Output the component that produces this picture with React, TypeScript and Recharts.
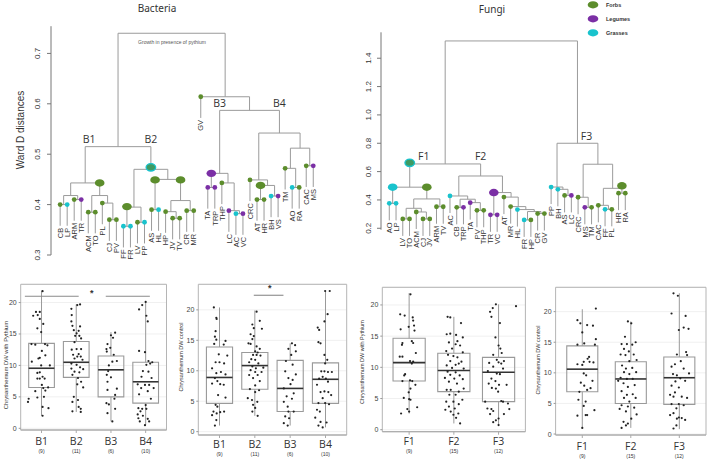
import React from 'react';
import { ComposedChart, Scatter, XAxis, YAxis, ReferenceArea, ReferenceLine, CartesianGrid } from 'recharts';

const GREEN = '#5c8d2c';
const PURPLE = '#7b2fa5';
const CYAN = '#19c3cd';
const MIX = '#3f9a62';
const LINK = '#9b9b9b';
const FONT = '"Liberation Sans", Arial, sans-serif';
const colorOf: Record<string, string> = { f: GREEN, l: PURPLE, g: CYAN, m: MIX };

// ---------- dendrograms ----------
const bactLeaves = ['CB', 'LP', 'ARM', 'TR', 'ACM', 'TO', 'PL', 'CJ', 'PV', 'FF', 'FR', 'LV', 'PP', 'AS', 'HL', 'HP', 'JV', 'TV', 'CR', 'MR',
  'GV', 'TA', 'TRP', 'THP', 'LC', 'AC', 'VC', 'CRC', 'AT', 'HR', 'BH', 'VS', 'TM', 'AO', 'RA', 'CAC', 'MS'];
const bactGroups = ['f', 'g', 'f', 'l', 'f', 'f', 'f', 'f', 'f', 'g', 'g', 'f', 'g', 'f', 'g', 'f', 'f', 'f', 'f', 'f',
  'f', 'l', 'l', 'f', 'l', 'g', 'l', 'f', 'f', 'f', 'g', 'l', 'f', 'g', 'f', 'f', 'l'];
const bactMerges: [string, string, string, number][] = [
  ['a1', 'CB', 'LP', 0.400], ['a2', 'ARM', 'TR', 0.410], ['a3', 'a1', 'a2', 0.418],
  ['a4', 'ACM', 'TO', 0.385], ['a5', 'CJ', 'PV', 0.370], ['a6', 'PL', 'a5', 0.403],
  ['a7', 'a4', 'a6', 0.418], ['a8', 'a3', 'a7', 0.443],
  ['b1', 'FF', 'FR', 0.357], ['b2', 'LV', 'PP', 0.365], ['b3', 'b1', 'b2', 0.395],
  ['b4', 'AS', 'HL', 0.390], ['b5', 'JV', 'TV', 0.373], ['b6', 'HP', 'b5', 0.386],
  ['b7', 'CR', 'MR', 0.388], ['b8', 'b6', 'b7', 0.408], ['b9', 'b4', 'b8', 0.450],
  ['b10', 'b3', 'b9', 0.470], ['B12', 'a8', 'b10', 0.515],
  ['c1', 'TA', 'TRP', 0.434], ['c2', 'AC', 'VC', 0.382], ['c3', 'LC', 'c2', 0.388],
  ['c4', 'THP', 'c3', 0.443], ['c5', 'c1', 'c4', 0.462],
  ['d1', 'AT', 'HR', 0.410], ['d2', 'BH', 'VS', 0.417], ['d3', 'd1', 'd2', 0.438],
  ['d4', 'CRC', 'd3', 0.449], ['d5', 'AO', 'RA', 0.434], ['d6', 'TM', 'd5', 0.472],
  ['d7', 'CAC', 'MS', 0.477], ['d8', 'd6', 'd7', 0.512], ['d9', 'd4', 'd8', 0.542],
  ['e1', 'c5', 'd9', 0.587], ['e2', 'GV', 'e1', 0.614], ['root', 'B12', 'e2', 0.740],
];
const bactBigDots: [string, number, string][] = [
  ['a7', 0.443, 'f'], ['b1', 0.396, 'f'], ['b10', 0.474, 'm'], ['b4', 0.449, 'f'],
  ['b8', 0.449, 'f'], ['c1', 0.462, 'l'], ['d1', 0.438, 'f'],
];
// cluster names: [node, name, sits on parent bar (p) or own bar (s)]
const bactClusters: [string, string, string][] = [['a8', 'B1', 'p'], ['b10', 'B2', 'p'], ['c5', 'B3', 'p'], ['d9', 'B4', 'p']];
const bactTicks = [0.3, 0.4, 0.5, 0.6, 0.7];

const fungLeaves = ['AO', 'LP', 'LV', 'TO', 'ACM', 'CJ', 'JV', 'ARM', 'TV', 'AC', 'CB', 'TRP', 'TA', 'PV', 'THP', 'TR', 'VC', 'AT',
  'MR', 'HL', 'FR', 'HP', 'CR', 'GV', 'PP', 'BH', 'AS', 'LC', 'CRC', 'MS', 'TM', 'CAC', 'FF', 'PL', 'HR', 'RA'];
const fungGroups = ['g', 'g', 'f', 'f', 'f', 'f', 'f', 'f', 'f', 'g', 'f', 'l', 'l', 'f', 'f', 'l', 'l', 'f',
  'f', 'g', 'g', 'f', 'f', 'f', 'g', 'g', 'f', 'l', 'f', 'l', 'f', 'f', 'g', 'f', 'f', 'f'];
const fungMerges: [string, string, string, number][] = [
  ['f1', 'AO', 'LP', 0.376], ['f2', 'LV', 'TO', 0.266], ['f3', 'CJ', 'JV', 0.266],
  ['f4', 'ACM', 'f3', 0.315], ['f5', 'f2', 'f4', 0.341], ['f6', 'ARM', 'TV', 0.352],
  ['f7', 'f5', 'f6', 0.407], ['f8', 'f1', 'f7', 0.490],
  ['g1', 'CB', 'TRP', 0.348], ['g2', 'PV', 'THP', 0.327], ['g3', 'TA', 'g2', 0.381],
  ['g4', 'g1', 'g3', 0.405], ['g5', 'AC', 'g4', 0.428], ['g6', 'TR', 'VC', 0.295],
  ['g7', 'FR', 'HP', 0.259], ['g8', 'CR', 'GV', 0.304], ['g9', 'g7', 'g8', 0.318],
  ['g10', 'HL', 'g9', 0.332], ['g11', 'MR', 'g10', 0.353], ['g12', 'AT', 'g11', 0.420],
  ['g13', 'g6', 'g12', 0.452], ['g14', 'g5', 'g13', 0.569], ['F12', 'f8', 'g14', 0.654],
  ['h1', 'AS', 'LC', 0.432], ['h2', 'BH', 'h1', 0.475], ['h3', 'PP', 'h2', 0.491],
  ['h4', 'MS', 'TM', 0.348], ['h5', 'CRC', 'h4', 0.419], ['h6', 'FF', 'PL', 0.334],
  ['h7', 'CAC', 'h6', 0.362], ['h8', 'HR', 'RA', 0.448], ['h9', 'h7', 'h8', 0.482],
  ['h10', 'h5', 'h9', 0.652], ['F3', 'h3', 'h10', 0.800], ['root', 'F12', 'F3', 1.522],
];
const fungBigDots: [string, number, string][] = [
  ['f8', 0.662, 'm'], ['f1', 0.490, 'g'], ['f7', 0.490, 'f'], ['g6', 0.452, 'l'], ['h8', 0.500, 'f'],
];
const fungClusters: [string, string, string][] = [['f8', 'F1', 'p'], ['g14', 'F2', 'p'], ['F3', 'F3', 's']];
const fungTicks = [0.2, 0.4, 0.6, 0.8, 1.0, 1.2, 1.4];
const legendNames = ['Forbs', 'Legumes', 'Grasses'];
const legendGroups = ['f', 'l', 'g'];

// ---------- boxplots ----------
const bactCats = ['B1', 'B2', 'B3', 'B4'];
const bactCounts = ['(9)', '(11)', '(6)', '(10)'];
const fungCats = ['F1', 'F2', 'F3'];
const fungCounts = ['(9)', '(15)', '(12)'];
const boxTicks = [0, 5, 10, 15, 20];

const bactPythBoxes = [
  { min: 2.0, q1: 6.5, med: 9.55, q3: 13.5, max: 21.9 },
  { min: 2.6, q1: 8.1, med: 10.5, q3: 13.8, max: 19.7 },
  { min: 1.1, q1: 5.0, med: 9.3, q3: 11.5, max: 15.3 },
  { min: 0.5, q1: 4.0, med: 7.4, q3: 10.5, max: 20.1 },
];
const bactCtrlBoxes = [
  { min: 1.0, q1: 4.65, med: 8.9, q3: 13.9, max: 20.4 },
  { min: 2.6, q1: 6.96, med: 10.85, q3: 13.0, max: 19.9 },
  { min: 1.0, q1: 3.3, med: 7.1, q3: 11.7, max: 14.5 },
  { min: 0.7, q1: 4.65, med: 8.6, q3: 11.3, max: 23.1 },
];
const fungPythBoxes = [
  { min: 2.6, q1: 7.8, med: 10.75, q3: 14.65, max: 21.9 },
  { min: 1.0, q1: 6.1, med: 9.5, q3: 12.25, max: 18.1 },
  { min: 0.75, q1: 4.5, med: 9.2, q3: 11.6, max: 20.1 },
];
const fungCtrlBoxes = [
  { min: 1.0, q1: 6.9, med: 10.6, q3: 14.4, max: 20.4 },
  { min: 1.0, q1: 5.0, med: 9.0, q3: 11.8, max: 18.4 },
  { min: 0.8, q1: 4.85, med: 9.2, q3: 12.6, max: 23.0 },
];

// jittered observations: [offset from group centre, value]
const bpB1 = [[.03, 21.8], [-.16, 18.5], [-.05, 18.5], [-.11, 18.0], [-.24, 17.9], [-.05, 17.4], [.05, 16.6], [-.12, 15.9], [-.01, 15.3], [-.29, 13.4], [-.18, 13.3], [.10, 13.4], [.17, 13.2], [.01, 12.3], [-.05, 11.2], [-.09, 11.1], [.11, 11.6], [-.28, 10.6], [.24, 10.0], [-.01, 10.0], [-.12, 8.8], [-.05, 8.9], [.03, 8.2], [-.12, 7.9], [-.05, 7.9], [.09, 7.9], [.01, 6.9], [.05, 6.4], [.19, 6.5], [-.18, 5.9], [.11, 6.0], [-.37, 4.7], [-.12, 4.9], [.07, 5.0], [-.39, 4.2], [.03, 3.4], [.20, 3.2], [.03, 2.0]];
const bpB2 = [[.11, 19.7], [.03, 19.6], [-.14, 19.0], [-.13, 18.0], [-.14, 17.0], [-.11, 16.3], [.11, 16.2], [-.07, 15.6], [.07, 15.5], [.01, 15.1], [-.03, 14.7], [.09, 14.7], [.14, 14.3], [-.05, 13.7], [-.13, 12.5], [.01, 12.6], [.14, 12.6], [-.09, 11.7], [.07, 11.8], [.03, 11.4], [.13, 11.4], [-.05, 11.1], [.18, 10.9], [-.14, 10.3], [.01, 10.1], [.11, 9.7], [-.14, 9.5], [.20, 9.4], [-.05, 9.0], [.09, 8.9], [-.11, 8.5], [.05, 8.0], [.14, 7.4], [.03, 7.0], [.20, 6.5], [-.07, 5.0], [.05, 4.5], [-.11, 4.2], [.07, 3.4], [.13, 3.1], [-.11, 2.7], [.13, 2.6]];
const bpB3 = [[.12, 15.2], [0, 14.8], [.06, 14.4], [-.10, 13.4], [-.02, 12.8], [-.13, 12.6], [-.12, 12.2], [.08, 11.7], [.17, 10.7], [.04, 10.6], [-.06, 10.0], [-.08, 9.1], [-.12, 8.5], [0, 8.1], [-.10, 7.4], [-.10, 6.1], [.17, 6.3], [.12, 5.3], [.10, 4.7], [-.13, 4.0], [-.06, 3.8], [.12, 3.1], [-.10, 2.4], [.04, 1.1]];
const bpB4 = [[-.19, 18.9], [-.10, 19.6], [0, 20.1], [.02, 17.9], [.06, 17.0], [-.19, 12.3], [-.02, 12.1], [.08, 10.7], [.13, 10.3], [.19, 10.5], [.02, 10.1], [-.08, 9.1], [.08, 9.0], [-.12, 8.2], [.17, 8.0], [-.23, 7.0], [-.02, 6.9], [.10, 6.9], [-.13, 6.4], [.23, 6.4], [.06, 5.9], [-.19, 5.4], [.15, 4.7], [0, 3.7], [-.21, 3.2], [-.10, 3.1], [.02, 3.1], [-.15, 2.7], [-.23, 2.2], [-.08, 2.0], [.06, 1.5], [-.21, 1.6], [-.17, 1.1], [.10, 1.1], [-.02, 0.5]];

const bcB1 = [[-.16, 20.4], [-.09, 18.7], [-.08, 18.5], [-.11, 16.5], [-.13, 15.6], [-.09, 15.1], [.17, 14.9], [-.15, 14.4], [.12, 14.3], [-.02, 12.7], [.22, 12.5], [-.11, 11.4], [0, 11.4], [.13, 11.2], [-.21, 10.4], [-.09, 9.6], [.04, 9.8], [.17, 9.4], [-.13, 8.8], [-.06, 8.3], [.02, 7.8], [.12, 7.7], [-.21, 7.9], [-.04, 6.0], [.17, 5.6], [-.11, 4.4], [-.06, 4.1], [-.17, 3.3], [.02, 3.2], [.13, 3.3], [-.21, 2.7], [-.08, 3.0], [-.09, 1.9], [-.13, 1.0]];
const bcB2 = [[.05, 19.7], [.14, 18.2], [-.07, 17.6], [-.03, 17.0], [.20, 16.9], [-.12, 16.0], [-.03, 15.7], [-.07, 15.2], [-.18, 14.5], [-.12, 14.4], [.05, 14.0], [.14, 13.6], [.01, 13.2], [.08, 13.0], [-.05, 12.6], [.05, 12.6], [.16, 12.5], [-.10, 11.9], [.01, 11.8], [-.16, 11.4], [.10, 11.2], [-.07, 10.7], [.03, 10.4], [.24, 10.5], [-.12, 10.1], [.01, 9.8], [.19, 9.8], [-.16, 9.3], [.08, 9.3], [-.05, 8.8], [.14, 8.3], [.01, 7.6], [-.14, 7.0], [.12, 6.8], [.01, 6.5], [-.20, 5.5], [-.08, 5.2], [.07, 4.9], [-.05, 4.4], [.01, 3.9], [-.07, 3.3], [.08, 2.6]];
const bcB3 = [[.05, 14.5], [.14, 14.2], [-.05, 13.6], [.16, 13.2], [.03, 12.6], [-.12, 11.6], [.07, 11.0], [-.14, 9.9], [.16, 9.4], [-.05, 8.8], [.07, 8.5], [.01, 7.8], [-.18, 7.1], [.10, 6.3], [-.10, 5.8], [.05, 5.4], [-.18, 4.9], [-.07, 4.1], [.10, 3.3], [-.05, 3.3], [-.14, 2.5], [-.03, 2.2], [-.18, 1.4], [-.07, 1.0]];
const bcB4 = [[-.01, 23.1], [.12, 23.1], [.06, 19.3], [-.03, 18.1], [-.22, 17.1], [-.18, 16.7], [-.20, 14.7], [-.14, 14.5], [-.03, 12.6], [.05, 11.8], [-.01, 11.2], [-.12, 9.9], [-.03, 9.9], [.07, 9.8], [.18, 9.8], [-.08, 9.0], [-.18, 8.7], [.01, 8.7], [.07, 8.2], [-.24, 7.7], [-.03, 6.6], [-.14, 6.5], [.08, 6.5], [.16, 6.0], [-.08, 5.5], [-.20, 4.7], [-.01, 4.7], [.10, 4.5], [-.24, 3.6], [-.16, 3.3], [-.29, 2.3], [-.14, 1.6], [.03, 1.5], [-.20, 1.0], [-.08, 0.7]];

const fpF1 = [[.03, 21.7], [-.20, 18.5], [-.10, 18.3], [.08, 18.0], [.09, 17.5], [-.01, 16.5], [.11, 16.7], [.12, 15.9], [-.19, 16.1], [-.15, 13.9], [-.16, 13.6], [.06, 14.2], [.09, 13.9], [-.21, 11.7], [-.15, 11.7], [.02, 11.0], [.09, 10.9], [.15, 12.3], [.06, 10.6], [-.09, 8.9], [-.11, 8.7], [-.15, 7.8], [.02, 7.9], [.07, 7.8], [.03, 6.6], [.14, 7.2], [-.01, 6.0], [-.12, 5.1], [0, 4.9], [.03, 4.8], [-.04, 3.3], [.18, 3.6], [-.18, 2.6], [0, 2.9]];
const fpF2 = [[-.14, 18.1], [-.08, 18.0], [.16, 17.1], [-.16, 15.3], [-.08, 15.4], [.05, 15.2], [.20, 14.8], [.08, 14.2], [-.11, 14.0], [.04, 13.7], [.14, 13.5], [-.04, 13.0], [-.17, 12.6], [.20, 12.4], [-.13, 12.0], [-.01, 11.8], [.08, 11.6], [-.08, 11.0], [.17, 10.9], [.11, 10.6], [.04, 10.4], [-.16, 10.3], [-.04, 9.9], [.22, 9.8], [-.14, 9.3], [.04, 9.2], [-.08, 8.8], [.13, 8.7], [-.20, 8.3], [.01, 8.2], [.20, 8.1], [-.11, 7.7], [.07, 7.4], [-.16, 6.4], [-.07, 6.4], [.11, 6.1], [.22, 6.6], [.04, 5.6], [-.10, 5.6], [-.17, 4.5], [-.01, 4.5], [.19, 4.8], [.11, 4.1], [-.11, 3.7], [.02, 3.4], [-.19, 3.2], [-.07, 2.9], [.10, 2.6], [-.01, 2.4], [.05, 1.9], [.14, 1.0]];
const fpF3 = [[-.06, 20.1], [.39, 19.8], [-.13, 19.5], [-.19, 18.9], [-.16, 18.1], [.03, 17.1], [-.07, 14.8], [0, 13.5], [.04, 13.0], [.07, 12.3], [-.12, 12.0], [-.04, 11.2], [.12, 11.0], [-.21, 10.7], [0, 10.8], [.06, 10.6], [-.12, 10.1], [.10, 9.8], [-.24, 9.4], [-.04, 9.0], [.03, 8.9], [-.16, 8.2], [-.07, 7.8], [-.22, 7.4], [.01, 7.2], [-.15, 6.7], [-.06, 6.6], [-.01, 6.1], [.18, 7.2], [-.30, 4.5], [.06, 4.6], [.10, 4.5], [-.25, 3.4], [-.16, 3.3], [.21, 4.2], [.24, 3.3], [-.12, 3.0], [-.19, 2.5], [.12, 2.5], [0, 1.8], [-.06, 1.5], [-.12, 1.2], [0, 0.75]];

const fcF1 = [[.28, 20.5], [-.10, 18.6], [-.04, 18.1], [.10, 17.8], [.22, 17.7], [0, 16.6], [.28, 15.5], [.04, 14.8], [-.10, 14.6], [.26, 14.6], [.14, 12.6], [.11, 12.3], [.03, 11.8], [-.10, 11.4], [.15, 11.8], [.23, 11.7], [0, 11.3], [.03, 9.9], [.08, 9.6], [-.03, 8.4], [.04, 7.9], [.21, 8.7], [.10, 7.2], [.17, 7.5], [-.06, 6.9], [-.08, 5.6], [.07, 5.3], [.03, 4.6], [.25, 3.9], [-.10, 3.0], [.07, 3.1], [.10, 3.1], [0, 1.0]];
const fcF2 = [[-.06, 18.4], [.01, 18.1], [-.12, 15.9], [.10, 15.0], [-.19, 14.7], [-.08, 14.7], [.03, 14.6], [-.14, 13.9], [-.04, 13.5], [-.21, 13.0], [.06, 13.0], [-.11, 12.9], [.12, 12.1], [-.03, 11.9], [-.18, 11.2], [-.10, 10.7], [.03, 10.8], [-.14, 10.1], [.11, 10.1], [-.03, 9.8], [-.21, 9.2], [-.08, 9.0], [.04, 9.0], [-.26, 8.7], [-.15, 8.3], [.08, 8.0], [-.06, 7.7], [-.19, 7.0], [-.08, 6.4], [.04, 6.5], [-.14, 5.9], [.10, 5.9], [-.03, 5.3], [-.19, 4.7], [-.06, 4.5], [.07, 4.3], [-.23, 4.1], [-.10, 3.7], [.12, 3.2], [.01, 2.5], [-.15, 2.0], [-.06, 1.7], [-.10, 1.4], [-.19, 1.0]];
const fcF3 = [[-.12, 23.0], [-.03, 22.6], [-.16, 19.7], [.13, 19.3], [.09, 17.4], [.19, 17.2], [-.01, 17.0], [.14, 13.4], [-.05, 13.0], [.16, 12.9], [.03, 11.9], [-.09, 11.4], [-.16, 11.0], [.09, 10.7], [-.13, 9.8], [-.05, 9.6], [.20, 9.9], [.02, 9.1], [.12, 8.7], [-.08, 8.6], [-.16, 7.9], [-.01, 7.6], [-.09, 6.8], [-.19, 6.4], [.05, 6.1], [-.12, 6.1], [.16, 5.9], [-.16, 4.9], [-.01, 4.9], [.09, 4.7], [-.06, 4.2], [-.12, 3.4], [-.19, 3.1], [-.01, 2.7], [.05, 2.6], [-.05, 2.5], [.12, 2.3], [-.06, 1.4], [-.12, 0.9]];

const bactPythSigSpans = [[0.52, 2.07], [2.85, 4.12]];
const bactPythSigY = 21.0;
const bactPythStar = [2.45, 21.6];
const bactCtrlSigSpans = [[1.97, 2.81]];
const bactCtrlSigY = 22.4;
const bactCtrlStar = [2.42, 23.7];

// label nudges (px) where a big node dot sits under the cluster name
const clusterShift: Record<string, number> = { B1: 4, F1: 14, F3: 9 };

// ---------- helpers ----------
function buildDendro(leaves: string[], groups: string[], merges: [string, string, string, number][],
  bigDots: [string, number, string][], clusters: [string, string, string][], hang: number) {
  const pos: Record<string, { x: number; h: number; leaf: boolean; parentH?: number }> = {};
  leaves.forEach((n, i) => { pos[n] = { x: i, h: 0, leaf: true }; });
  const links: { x: number; y: number }[][] = [];
  const dots: any[] = [];
  const labels: any[] = [];
  merges.forEach(([id, a, b, h]) => {
    const A = pos[a];
    const B = pos[b];
    const low = (n: { h: number; leaf: boolean }) => (n.leaf ? h - hang : n.h);
    links.push([{ x: A.x, y: low(A) }, { x: A.x, y: h }, { x: B.x, y: h }, { x: B.x, y: low(B) }]);
    [a, b].forEach((n) => {
      pos[n].parentH = h;
      if (pos[n].leaf) {
        const g = groups[leaves.indexOf(n)];
        dots.push({ x: pos[n].x, y: h, g, big: false });
        labels.push({ x: pos[n].x, y: h - hang, label: n });
      }
    });
    pos[id] = { x: (A.x + B.x) / 2, h, leaf: false };
  });
  bigDots.forEach(([id, h, g]) => dots.push({ x: pos[id].x, y: h, g, big: true }));
  const names = clusters.map(([id, name, at]) => ({
    x: pos[id].x, y: at === 's' ? pos[id].h : (pos[id].parentH as number), name,
  }));
  return { links, dots, labels, names };
}

const NoShape = () => <g />;

const LeafLabel = (p: any) => {
  const y = p.cy + 2;
  return (
    <text x={p.cx} y={y} transform={`rotate(-90 ${p.cx} ${y})`} textAnchor="end" dy="0.36em"
      fontSize={7.5} fill="#333" fontFamily={FONT}>{p.payload.label}</text>
  );
};

const ClusterName = (p: any) => (
  <text x={p.cx + (clusterShift[p.payload.name] || 0)} y={p.cy - 3.5} textAnchor="middle" fontSize={10.5}
    fill="#333" fontFamily='"Open Sans", Arial, sans-serif'>{p.payload.name}</text>
);

const NodeDot = (p: any) => {
  const d = p.payload;
  if (d.big) {
    const mixed = d.g === 'm';
    return <ellipse cx={p.cx} cy={p.cy} rx={4.8} ry={3.7} fill={colorOf[d.g]}
      stroke={mixed ? CYAN : 'none'} strokeWidth={mixed ? 1.3 : 0} />;
  }
  return <circle cx={p.cx} cy={p.cy} r={2.4} fill={colorOf[d.g]} />;
};

type DendroProps = {
  left: number; width: number; height: number;
  margin: { top: number; right: number; bottom: number; left: number };
  leaves: string[]; groups: string[]; merges: [string, string, string, number][];
  bigDots: [string, number, string][]; clusters: [string, string, string][]; hang: number; ticks: number[];
  xDomain: [number, number]; yDomain: [number, number]; tickX: number; axisFrom?: number;
};

function Dendro(p: DendroProps) {
  const d = buildDendro(p.leaves, p.groups, p.merges, p.bigDots, p.clusters, p.hang);
  const ownAxis = p.axisFrom !== undefined;
  return (
    <div style={{ position: 'absolute', left: p.left, top: 0 }}>
      <ComposedChart width={p.width} height={p.height} margin={p.margin}>
        <XAxis type="number" dataKey="x" domain={p.xDomain} hide />
        <YAxis type="number" dataKey="y" domain={p.yDomain} ticks={p.ticks} interval={0} width={51}
          axisLine={ownAxis ? false : { stroke: '#777' }} tickLine={{ stroke: '#777' }} tickSize={4}
          tick={(t: any) => (
            <text x={p.tickX} y={t.y} transform={`rotate(-90 ${p.tickX} ${t.y})`} textAnchor="middle"
              fontSize={8} fill="#333" fontFamily={FONT}>{Number(t.payload.value).toFixed(1)}</text>
          )} />
        {ownAxis && (
          <ReferenceLine segment={[{ x: p.xDomain[0], y: p.axisFrom as number }, { x: p.xDomain[0], y: p.yDomain[1] }]}
            stroke="#777" ifOverflow="visible" />
        )}
        {d.links.map((pts, i) => (
          <Scatter key={'l' + i} data={pts} line={{ stroke: LINK, strokeWidth: 1 }} lineType="joint"
            shape={NoShape} isAnimationActive={false} />
        ))}
        <Scatter data={d.labels} shape={LeafLabel} isAnimationActive={false} />
        <Scatter data={d.names} shape={ClusterName} isAnimationActive={false} />
        <Scatter data={d.dots} shape={NodeDot} isAnimationActive={false} />
      </ComposedChart>
    </div>
  );
}

type Box = { min: number; q1: number; med: number; q3: number; max: number };
type PanelProps = {
  left: number; top: number; width: number; height: number;
  margin: { top: number; right: number; bottom: number; left: number };
  yWidth: number; xHeight: number; xDomain: [number, number]; yDomain: [number, number];
  cats: string[]; counts: string[]; boxes: Box[]; points: number[][][]; half: number;
  sigSpans?: number[][]; sigY?: number; star?: number[]; dy1: number; dy2: number;
};

function BoxPanel(p: PanelProps) {
  const pts = p.points.flatMap((arr, i) => arr.map(([dx, y]) => ({ x: i + 1 + dx, y })));
  const ticks = p.cats.map((_, i) => i + 1);
  const parts: React.ReactNode[] = [];
  p.boxes.forEach((b, i) => {
    const c = i + 1;
    parts.push(<ReferenceLine key={'wl' + i} segment={[{ x: c, y: b.min }, { x: c, y: b.q1 }]} stroke="#9a9a9a" />);
    parts.push(<ReferenceLine key={'wh' + i} segment={[{ x: c, y: b.q3 }, { x: c, y: b.max }]} stroke="#9a9a9a" />);
    parts.push(<ReferenceArea key={'bx' + i} x1={c - p.half} x2={c + p.half} y1={b.q1} y2={b.q3}
      fill="none" fillOpacity={0} stroke="#9a9a9a" strokeWidth={1.1} />);
    parts.push(<ReferenceLine key={'md' + i} segment={[{ x: c - p.half, y: b.med }, { x: c + p.half, y: b.med }]}
      stroke="#333" strokeWidth={1.6} />);
  });
  (p.sigSpans || []).forEach((s, i) => {
    parts.push(<ReferenceLine key={'sg' + i} segment={[{ x: s[0], y: p.sigY as number }, { x: s[1], y: p.sigY as number }]}
      stroke="#8a8a8a" strokeWidth={1.1} />);
  });
  return (
    <div style={{ position: 'absolute', left: p.left, top: p.top }}>
      <ComposedChart width={p.width} height={p.height} margin={p.margin}>
        <CartesianGrid vertical={false} stroke="#f0f0f0" />
        <XAxis type="number" dataKey="x" domain={p.xDomain} ticks={ticks} interval={0} height={p.xHeight}
          tickSize={3} axisLine={{ stroke: '#aaa' }} tickLine={{ stroke: '#aaa' }}
          tick={(t: any) => {
            const i = Math.round(t.payload.value) - 1;
            return (
              <g>
                <text x={t.x} y={t.y + p.dy1} textAnchor="middle" fontSize={10.5} fill="#333"
                  fontFamily='"Open Sans", Arial, sans-serif'>{p.cats[i]}</text>
                <text x={t.x} y={t.y + p.dy2} textAnchor="middle" fontSize={5} fill="#333"
                  fontFamily={FONT}>{p.counts[i]}</text>
              </g>
            );
          }} />
        <YAxis type="number" dataKey="y" domain={p.yDomain} ticks={boxTicks} interval={0} width={p.yWidth}
          tickSize={2} axisLine={false} tickLine={{ stroke: '#999' }}
          tick={{ fontSize: 7, fill: '#444', fontFamily: FONT }} />
        <ReferenceArea x1={p.xDomain[0]} x2={p.xDomain[1]} y1={p.yDomain[0]} y2={p.yDomain[1]}
          fill="none" fillOpacity={0} stroke="#b5b5b5" />
        {parts}
        <Scatter data={pts} isAnimationActive={false}
          shape={(s: any) => <circle cx={s.cx} cy={s.cy} r={1.1} fill="#222" />} />
        {p.star && (
          <Scatter data={[{ x: p.star[0], y: p.star[1] }]} isAnimationActive={false}
            shape={(s: any) => <text x={s.cx} y={s.cy + 4} textAnchor="middle" fontSize={9}
              fontWeight="bold" fill="#333" fontFamily={FONT}>*</text>} />
        )}
      </ComposedChart>
    </div>
  );
}

const RotText = ({ x, y, size, children, color = '#333', family = FONT }: any) => (
  <div style={{
    position: 'absolute', left: x, top: y, transform: 'translate(-50%, -50%) rotate(-90deg)',
    whiteSpace: 'nowrap', fontSize: size, color, fontFamily: family, lineHeight: 1,
  }}>{children}</div>
);

export default function App() {
  return (
    <div style={{ position: 'absolute', left: 0, top: 0, width: 709, height: 460, background: '#fff', overflow: 'hidden' }}>
      <div style={{ position: 'absolute', left: 157, top: 1, transform: 'translateX(-50%)', fontSize: 10,
        fontFamily: '"Noto Sans", Arial, sans-serif', color: '#333' }}>Bacteria</div>
      <div style={{ position: 'absolute', left: 492, top: 2, transform: 'translateX(-50%)', fontSize: 10,
        fontFamily: '"Noto Sans", Arial, sans-serif', color: '#333' }}>Fungi</div>
      <div style={{ position: 'absolute', left: 172, top: 39, transform: 'translateX(-50%)', fontSize: 5,
        fontFamily: FONT, color: '#555', whiteSpace: 'nowrap' }}>Growth in presence of pythium</div>
      <RotText x={21} y={130} size={10}>Ward D distances</RotText>

      <Dendro left={0} width={330} height={270} margin={{ top: 26.2, right: 8.3, bottom: 15, left: 0 }}
        leaves={bactLeaves} groups={bactGroups} merges={bactMerges} bigDots={bactBigDots} clusters={bactClusters}
        hang={0.042} ticks={bactTicks} xDomain={[-1.3, 37.2]} yDomain={[0.3, 0.754]} tickX={40} />
      <Dendro left={330} width={310} height={260} margin={{ top: 32.3, right: 4.6, bottom: 21.8, left: 0 }}
        leaves={fungLeaves} groups={fungGroups} merges={fungMerges} bigDots={fungBigDots} clusters={fungClusters}
        hang={0.12} ticks={fungTicks} xDomain={[-1.23, 36.5]} yDomain={[0.13, 1.583]} tickX={41} axisFrom={0.19} />

      <svg style={{ position: 'absolute', left: 580, top: 0 }} width={60} height={40}>
        {legendNames.map((n, i) => (
          <g key={n}>
            <ellipse cx={13} cy={4.8 + i * 14} rx={5.3} ry={3.6} fill={colorOf[legendGroups[i]]} />
            <text x={26} y={6.8 + i * 14} fontSize={5.5} fontWeight="bold" fill="#333" fontFamily={FONT}>{n}</text>
          </g>
        ))}
      </svg>

      <BoxPanel left={0} top={280} width={172} height={180} margin={{ top: 4.3, right: 5.5, bottom: 0, left: 0 }}
        yWidth={20.7} xHeight={30} xDomain={[0.4, 4.6]} yDomain={[-0.27, 22.9]} cats={bactCats} counts={bactCounts}
        boxes={bactPythBoxes} points={[bpB1, bpB2, bpB3, bpB4]} half={0.37}
        sigSpans={bactPythSigSpans} sigY={bactPythSigY} star={bactPythStar} dy1={9.5} dy2={17.5} />
      <BoxPanel left={175} top={280} width={176} height={180} margin={{ top: 4.3, right: 4.3, bottom: 0, left: 0 }}
        yWidth={23.3} xHeight={25} xDomain={[0.4, 4.6]} yDomain={[-0.55, 24.2]} cats={bactCats} counts={bactCounts}
        boxes={bactCtrlBoxes} points={[bcB1, bcB2, bcB3, bcB4]} half={0.37}
        sigSpans={bactCtrlSigSpans} sigY={bactCtrlSigY} star={bactCtrlStar} dy1={7.5} dy2={15.5} />
      <BoxPanel left={350} top={280} width={180} height={180} margin={{ top: 7.3, right: 4.6, bottom: 0, left: 0 }}
        yWidth={32.3} xHeight={28.3} xDomain={[0.4, 3.6]} yDomain={[-0.32, 22.83]} cats={fungCats} counts={fungCounts}
        boxes={fungPythBoxes} points={[fpF1, fpF2, fpF3]} half={0.36} dy1={8.5} dy2={16.5} />
      <BoxPanel left={525} top={280} width={184} height={180} margin={{ top: 7.3, right: 3, bottom: 0, left: 0 }}
        yWidth={30.6} xHeight={25} xDomain={[0.45, 3.55]} yDomain={[-0.16, 23.98]} cats={fungCats} counts={fungCounts}
        boxes={fungCtrlBoxes} points={[fcF1, fcF2, fcF3]} half={0.32} dy1={9.5} dy2={18} />

      <RotText x={7.3} y={365} size={5.8}>Chrysanthemum DW with Pythium</RotText>
      <RotText x={182} y={357} size={5.5}>Chrysanthemum DW control</RotText>
      <RotText x={363} y={362} size={5.5}>Chrysanthemum DW with Pythium</RotText>
      <RotText x={539} y={360} size={5.5}>Chrysanthemum DW control</RotText>
    </div>
  );
}
